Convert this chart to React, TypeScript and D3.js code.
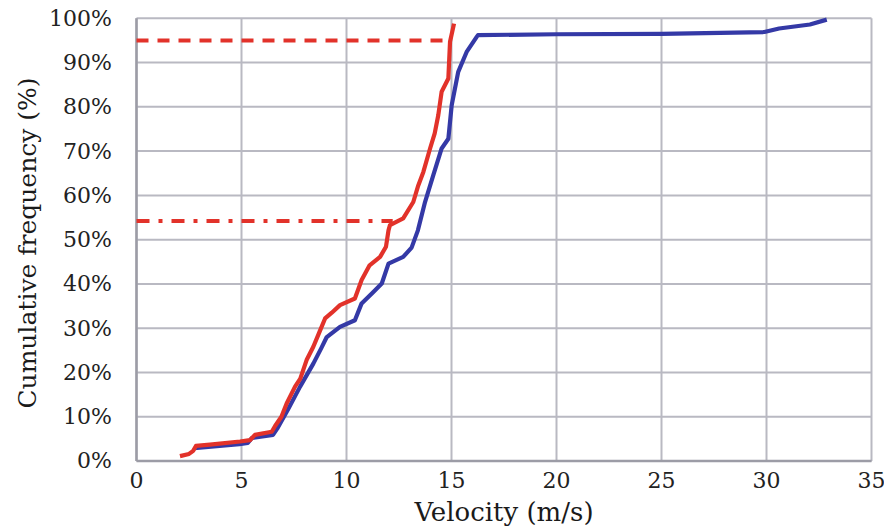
import React, { useRef, useEffect } from 'react';
import * as d3 from 'd3';

// Red curve (cumulative frequency vs velocity)
const redVelocity = [2.07, 2.5, 2.7, 2.83, 3.5, 4.93, 5.4, 5.64, 6.44, 6.6, 6.9, 7.15, 7.55, 7.8, 8.1, 8.42, 8.7, 8.98, 9.3, 9.69, 10.4, 10.72, 11.1, 11.6, 11.88, 12.0, 12.07, 12.7, 13.18, 13.4, 13.66, 13.98, 14.2, 14.37, 14.53, 14.85, 14.93, 15.12];
const redPercent = [1.1, 1.6, 2.3, 3.4, 3.7, 4.4, 4.7, 5.9, 6.6, 7.9, 10.0, 13.0, 16.8, 18.6, 22.8, 25.8, 29.0, 32.2, 33.5, 35.2, 36.7, 40.9, 44.2, 46.1, 48.4, 52.1, 53.3, 54.8, 58.5, 62.0, 65.3, 70.6, 74.0, 78.1, 83.4, 86.4, 94.7, 98.8];

// Blue curve
const blueVelocity = [2.75, 4.9, 5.3, 5.5, 6.5, 6.7, 7.2, 7.79, 8.42, 8.8, 9.06, 9.69, 10.4, 10.72, 11.28, 11.68, 12.0, 12.7, 13.1, 13.4, 13.74, 14.13, 14.53, 14.85, 15.01, 15.32, 15.72, 16.2, 16.26, 20, 25, 29.9, 30.6, 32.07, 32.87];
const bluePercent = [2.9, 3.8, 4.1, 5.2, 5.9, 7.3, 11.5, 16.8, 22.0, 25.5, 28.0, 30.3, 31.8, 35.6, 38.2, 40.1, 44.6, 46.1, 48.2, 52.1, 58.5, 64.5, 70.6, 72.8, 80.4, 87.9, 92.4, 95.8, 96.2, 96.4, 96.5, 96.9, 97.7, 98.6, 99.7];

// Reference lines: [percent, velocity where it meets the red curve]
const dashedRef = [95, 14.95];
const dashDotRef = [54.2, 12.2];

const xTicks = [0, 5, 10, 15, 20, 25, 30, 35];
const yTicks = [0, 10, 20, 30, 40, 50, 60, 70, 80, 90, 100];

const App: React.FC = () => {
  const svgRef = useRef<SVGSVGElement>(null);
  const width = 884;
  const height = 528;

  useEffect(() => {
    if (!svgRef.current) return;
    d3.select(svgRef.current).selectAll('*').remove();

    const margin = { top: 18.3, right: 12.5, bottom: 67, left: 136.5 };
    const font = "'DejaVu Serif', 'Liberation Serif', serif";

    const svg = d3.select(svgRef.current)
      .attr('width', width)
      .attr('height', height)
      .style('font-family', font);

    svg.append('rect').attr('width', width).attr('height', height).attr('fill', '#fff');

    const x = d3.scaleLinear().domain([0, 35]).range([margin.left, width - margin.right]);
    const y = d3.scaleLinear().domain([0, 100]).range([height - margin.bottom, margin.top]);

    // Grid
    const grid = svg.append('g');
    grid.selectAll('line.v')
      .data(xTicks)
      .enter()
      .append('line')
      .attr('x1', d => x(d)).attr('x2', d => x(d))
      .attr('y1', y(0)).attr('y2', y(100))
      .attr('stroke', '#b9b9c2')
      .attr('stroke-width', 2);
    grid.selectAll('line.h')
      .data(yTicks)
      .enter()
      .append('line')
      .attr('x1', x(0)).attr('x2', x(35))
      .attr('y1', d => y(d)).attr('y2', d => y(d))
      .attr('stroke', '#b9b9c2')
      .attr('stroke-width', 2);

    // Axis lines
    svg.append('line')
      .attr('x1', x(0)).attr('x2', x(35))
      .attr('y1', y(0)).attr('y2', y(0))
      .attr('stroke', '#9c9ca6').attr('stroke-width', 2.5);
    svg.append('line')
      .attr('x1', x(0)).attr('x2', x(0))
      .attr('y1', y(0)).attr('y2', y(100))
      .attr('stroke', '#9c9ca6').attr('stroke-width', 2.5);

    // Tick labels
    svg.selectAll('text.xt')
      .data(xTicks)
      .enter()
      .append('text')
      .attr('x', d => x(d))
      .attr('y', y(0) + 27)
      .attr('text-anchor', 'middle')
      .attr('font-size', 22)
      .attr('fill', '#222')
      .text(d => d);
    svg.selectAll('text.yt')
      .data(yTicks)
      .enter()
      .append('text')
      .attr('x', x(0) - 24.5)
      .attr('y', d => y(d))
      .attr('dy', '0.34em')
      .attr('text-anchor', 'end')
      .attr('font-size', 22)
      .attr('fill', '#222')
      .text(d => `${d}%`);

    // Axis titles
    svg.append('text')
      .attr('x', (x(0) + x(35)) / 2)
      .attr('y', 521)
      .attr('text-anchor', 'middle')
      .attr('font-size', 26)
      .attr('fill', '#1a1a1a')
      .text('Velocity (m/s)');
    svg.append('text')
      .attr('transform', `translate(36, ${y(0) - 218}) rotate(-90)`)
      .attr('text-anchor', 'middle')
      .attr('font-size', 25)
      .attr('fill', '#1a1a1a')
      .text('Cumulative frequency (%)');

    // Reference lines
    svg.append('line')
      .attr('x1', x(0)).attr('x2', x(dashedRef[1]))
      .attr('y1', y(dashedRef[0])).attr('y2', y(dashedRef[0]))
      .attr('stroke', '#e2322a').attr('stroke-width', 4)
      .attr('stroke-dasharray', '12 9');
    svg.append('line')
      .attr('x1', x(0)).attr('x2', x(dashDotRef[1]))
      .attr('y1', y(dashDotRef[0])).attr('y2', y(dashDotRef[0]))
      .attr('stroke', '#e2322a').attr('stroke-width', 4)
      .attr('stroke-dasharray', '13 9 4 9');

    const line = d3.line<[number, number]>()
      .x(d => x(d[0]))
      .y(d => y(d[1]));

    const bluePts = blueVelocity.map((v, i) => [v, bluePercent[i]] as [number, number]);
    const redPts = redVelocity.map((v, i) => [v, redPercent[i]] as [number, number]);

    svg.append('path')
      .attr('d', line(bluePts))
      .attr('fill', 'none')
      .attr('stroke', '#3439a6')
      .attr('stroke-width', 4.2)
      .attr('stroke-linejoin', 'round');
    svg.append('path')
      .attr('d', line(redPts))
      .attr('fill', 'none')
      .attr('stroke', '#e2322a')
      .attr('stroke-width', 4.2)
      .attr('stroke-linejoin', 'round');
  }, []);

  return (
    <div style={{ position: 'absolute', left: 0, top: 0 }}>
      <svg ref={svgRef}></svg>
    </div>
  );
};

export default App;
